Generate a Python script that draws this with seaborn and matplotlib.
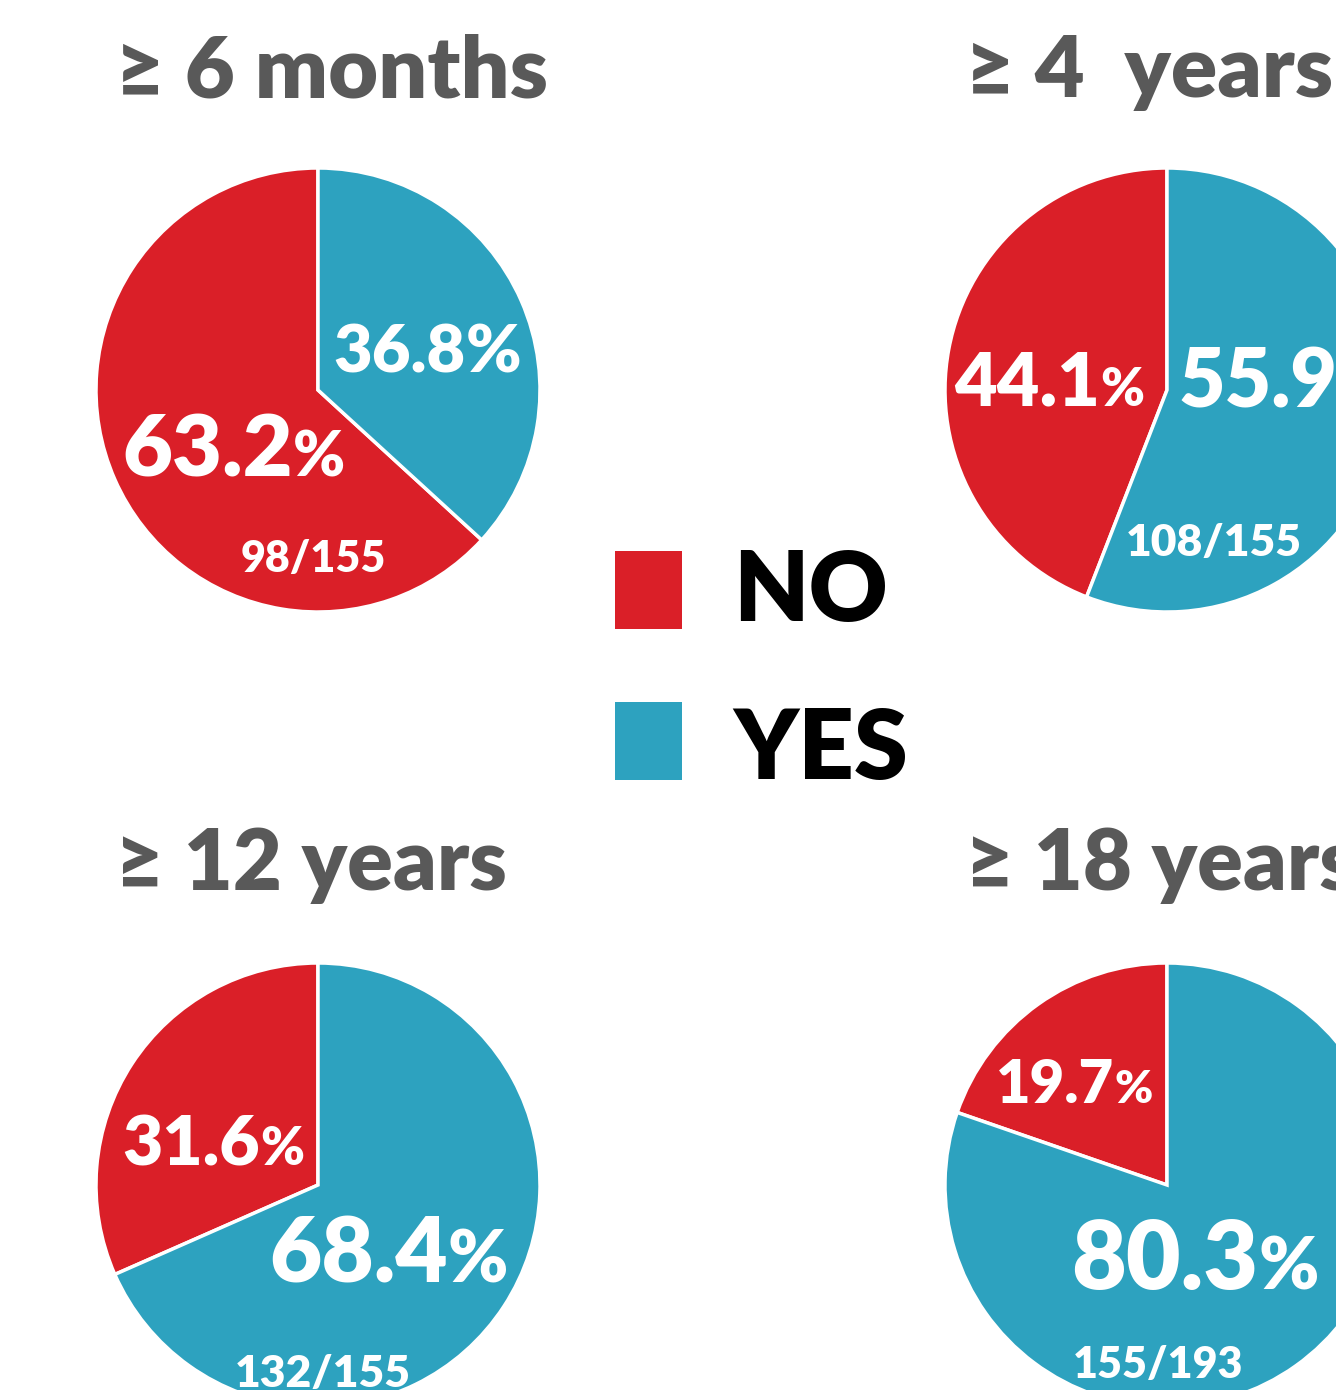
import matplotlib
matplotlib.use("Agg")
import matplotlib.pyplot as plt
from matplotlib.patches import Rectangle
import seaborn as sns

# data
titles = ["≥ 6 months", "≥ 4  years", "≥ 12 years", "≥ 18 years"]
no_pct = [63.2, 44.1, 31.6, 19.7]
yes_pct = [36.8, 55.9, 68.4, 80.3]
counts = ["98/155", "108/155", "132/155", "155/193"]
categories = ["NO", "YES"]

RED = "#DA1F28"
BLUE = "#2DA2BF"
GREY = "#595959"
WEIGHT = "heavy"

W, H = 1336, 1390
R = 222  # pie radius in px

# pie centres (px, from top-left) and title anchors
centres = [(318, 390), (1167, 390), (318, 1185), (1167, 1185)]
title_pos = [(115, 97, 62), (965, 97, 62), (115, 890, 61), (965, 890, 61)]

# label layout per pie: (x, y, number size, % size) for NO, YES and count
no_lab = [(-0.88, -0.39, 62, 45), (-0.96, -0.07, 53, 38),
          (-0.88, 0.09, 50, 38), (-0.77, 0.37, 43, 33)]
yes_lab = [(0.07, 0.08, 48, 48), (0.05, -0.08, 58, 42),
           (-0.22, -0.44, 65, 52), (-0.43, -0.47, 68, 52)]
cnt_lab = [(-0.02, -0.82, 31), (0.21, -0.75, 32),
           (0.02, -0.91, 32), (-0.04, -0.87, 31)]

sns.set_theme(style="white")
plt.rcParams["font.family"] = ["Lato", "DejaVu Sans"]

fig = plt.figure(figsize=(W / 100, H / 100), dpi=100)


def pct_label(ax, x, y, value, size, psize):
    t = ax.text(x, y, f"{value:.1f}", color="white", fontsize=size,
                fontweight=WEIGHT, ha="left", va="baseline")
    ax.annotate("%", xy=(1, y), xycoords=(t, "data"), color="white",
                fontsize=psize, fontweight=WEIGHT, ha="left", va="baseline")


for i in range(4):
    cx, cy = centres[i]
    ax = fig.add_axes([(cx - R) / W, (H - cy - R) / H, 2 * R / W, 2 * R / H])
    ax.pie([no_pct[i], yes_pct[i]], colors=[RED, BLUE], startangle=90,
           counterclock=True, radius=1,
           wedgeprops=dict(edgecolor="white", linewidth=2.5))
    ax.set_xlim(-1, 1)
    ax.set_ylim(-1, 1)
    ax.set_aspect("auto")
    ax.axis("off")

    x, y, s, ps = no_lab[i]
    pct_label(ax, x, y, no_pct[i], s, ps)
    x, y, s, ps = yes_lab[i]
    pct_label(ax, x, y, yes_pct[i], s, ps)
    x, y, s = cnt_lab[i]
    ax.text(x, y, counts[i], color="white", fontsize=s, fontweight=WEIGHT,
            ha="center", va="baseline")

    tx, ty, ts = title_pos[i]
    fig.text(tx / W, 1 - ty / H, titles[i], color=GREY, fontsize=ts,
             fontweight=WEIGHT, ha="left", va="baseline")

# legend
for lab, col, top, base in [(categories[0], RED, 551, 621),
                            (categories[1], BLUE, 702, 779)]:
    fig.add_artist(Rectangle((615 / W, 1 - (top + 78) / H), 67 / W, 78 / H,
                             transform=fig.transFigure, facecolor=col,
                             edgecolor="none"))
    fig.text(733 / W, 1 - base / H, lab, color="black", fontsize=70,
             fontweight=WEIGHT, ha="left", va="baseline")

fig.savefig("out.png", dpi=100)
